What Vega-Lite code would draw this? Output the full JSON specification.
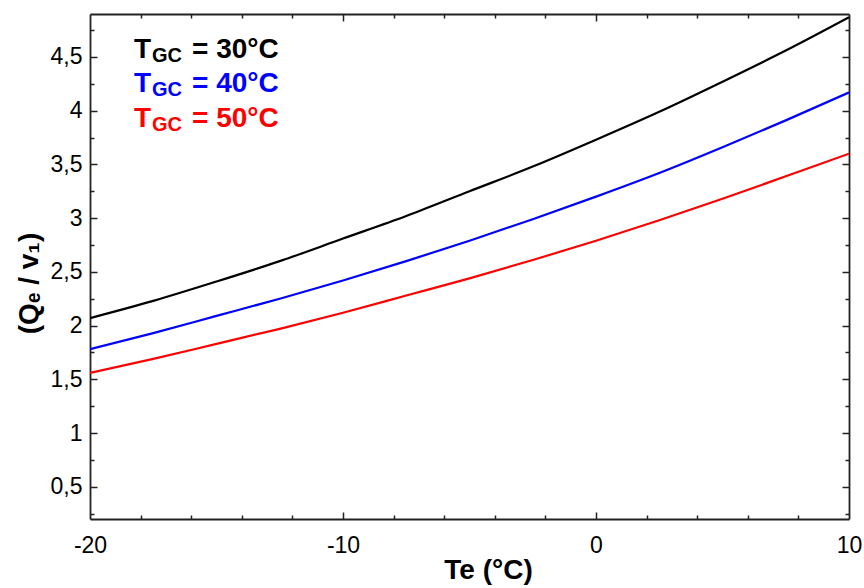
{
  "$schema": "https://vega.github.io/schema/vega-lite/v6.json",
  "width": 759,
  "height": 505,
  "autosize": {"type": "none"},
  "padding": {"left": 90, "top": 14, "right": 15, "bottom": 69},
  "background": "#ffffff",
  "datasets": {
    "curves": [
      {"te": -20, "q": 2.07, "tgc": "30"},
      {"te": -17.5, "q": 2.23, "tgc": "30"},
      {"te": -15, "q": 2.41, "tgc": "30"},
      {"te": -12.5, "q": 2.6, "tgc": "30"},
      {"te": -10, "q": 2.81, "tgc": "30"},
      {"te": -7.5, "q": 3.02, "tgc": "30"},
      {"te": -5, "q": 3.25, "tgc": "30"},
      {"te": -2.5, "q": 3.48, "tgc": "30"},
      {"te": 0, "q": 3.73, "tgc": "30"},
      {"te": 2.5, "q": 3.99, "tgc": "30"},
      {"te": 5, "q": 4.27, "tgc": "30"},
      {"te": 7.5, "q": 4.56, "tgc": "30"},
      {"te": 10, "q": 4.87, "tgc": "30"},
      {"te": -20, "q": 1.78, "tgc": "40"},
      {"te": -17.5, "q": 1.93, "tgc": "40"},
      {"te": -15, "q": 2.09, "tgc": "40"},
      {"te": -12.5, "q": 2.25, "tgc": "40"},
      {"te": -10, "q": 2.42, "tgc": "40"},
      {"te": -7.5, "q": 2.6, "tgc": "40"},
      {"te": -5, "q": 2.79, "tgc": "40"},
      {"te": -2.5, "q": 2.99, "tgc": "40"},
      {"te": 0, "q": 3.2, "tgc": "40"},
      {"te": 2.5, "q": 3.42, "tgc": "40"},
      {"te": 5, "q": 3.66, "tgc": "40"},
      {"te": 7.5, "q": 3.91, "tgc": "40"},
      {"te": 10, "q": 4.17, "tgc": "40"},
      {"te": -20, "q": 1.56, "tgc": "50"},
      {"te": -17.5, "q": 1.69, "tgc": "50"},
      {"te": -15, "q": 1.83, "tgc": "50"},
      {"te": -12.5, "q": 1.97, "tgc": "50"},
      {"te": -10, "q": 2.12, "tgc": "50"},
      {"te": -7.5, "q": 2.28, "tgc": "50"},
      {"te": -5, "q": 2.44, "tgc": "50"},
      {"te": -2.5, "q": 2.61, "tgc": "50"},
      {"te": 0, "q": 2.79, "tgc": "50"},
      {"te": 2.5, "q": 2.98, "tgc": "50"},
      {"te": 5, "q": 3.18, "tgc": "50"},
      {"te": 7.5, "q": 3.39, "tgc": "50"},
      {"te": 10, "q": 3.6, "tgc": "50"}
    ]
  },
  "data": {"name": "curves"},
  "resolve": {"axis": {"x": "independent", "y": "independent"}},
  "layer": [
    {
      "mark": {"type": "line", "strokeWidth": 2.2, "interpolate": "monotone", "clip": true},
      "encoding": {
        "x": {
          "field": "te", "type": "quantitative",
          "scale": {"domain": [-20, 10], "nice": false, "zero": false},
          "axis": {
            "orient": "bottom",
            "title": "Te (°C)",
            "values": [-20, -10, 0, 10],
            "ticks": false,
            "tickSize": 0,
            "labelPadding": 15,
            "titleX": 398,
            "titleY": 59,
            "titleAlign": "center",
            "titleBaseline": "alphabetic"
          }
        },
        "y": {
          "field": "q", "type": "quantitative",
          "scale": {"domain": [0.2, 4.9], "nice": false, "zero": false},
          "axis": {
            "orient": "left",
            "title": "(Qₑ / v₁)",
            "values": [0.5, 1, 1.5, 2, 2.5, 3, 3.5, 4, 4.5],
            "format": "~g",
            "ticks": false,
            "tickSize": 0,
            "labelPadding": 8,
            "titleX": -53,
            "titleY": 269,
            "titleAlign": "center",
            "titleBaseline": "alphabetic",
            "titleAngle": -90
          }
        },
        "color": {
          "field": "tgc", "type": "nominal",
          "scale": {"domain": ["30", "40", "50"], "range": ["#000000", "#0000ff", "#ff0000"]},
          "legend": null
        }
      }
    },
    {
      "mark": {"type": "line", "opacity": 0},
      "encoding": {
        "x": {"field": "te", "type": "quantitative", "axis": {"orient": "top", "title": null, "labels": false, "ticks": false, "values": [-20, 10]}},
        "y": {"field": "q", "type": "quantitative", "axis": {"orient": "right", "title": null, "labels": false, "ticks": false, "values": [0.5, 4.5]}}
      }
    },
    {
      "mark": {"type": "line", "opacity": 0},
      "encoding": {
        "x": {"field": "te", "type": "quantitative", "axis": {"orient": "bottom", "title": null, "labels": false, "domain": false, "offset": -7, "tickSize": 7, "values": [-10, 0]}},
        "y": {"field": "q", "type": "quantitative", "axis": {"orient": "left", "title": null, "labels": false, "domain": false, "offset": -7, "tickSize": 7, "values": [0.5, 1, 1.5, 2, 2.5, 3, 3.5, 4, 4.5]}}
      }
    },
    {
      "mark": {"type": "line", "opacity": 0},
      "encoding": {
        "x": {"field": "te", "type": "quantitative", "axis": {"orient": "top", "title": null, "labels": false, "domain": false, "offset": -7, "tickSize": 7, "values": [-10, 0]}},
        "y": {"field": "q", "type": "quantitative", "axis": {"orient": "right", "title": null, "labels": false, "domain": false, "offset": -7, "tickSize": 7, "values": [0.5, 1, 1.5, 2, 2.5, 3, 3.5, 4, 4.5]}}
      }
    },
    {
      "mark": {"type": "line", "opacity": 0},
      "encoding": {
        "x": {"field": "te", "type": "quantitative", "axis": {"orient": "bottom", "title": null, "labels": false, "domain": false, "offset": -4, "tickSize": 4, "values": [-18, -16, -14, -12, -8, -6, -4, -2, 2, 4, 6, 8]}},
        "y": {"field": "q", "type": "quantitative", "axis": {"orient": "left", "title": null, "labels": false, "domain": false, "offset": -4, "tickSize": 4, "values": [0.25, 0.75, 1.25, 1.75, 2.25, 2.75, 3.25, 3.75, 4.25, 4.75]}}
      }
    },
    {
      "mark": {"type": "line", "opacity": 0},
      "encoding": {
        "x": {"field": "te", "type": "quantitative", "axis": {"orient": "top", "title": null, "labels": false, "domain": false, "offset": -4, "tickSize": 4, "values": [-18, -16, -14, -12, -8, -6, -4, -2, 2, 4, 6, 8]}},
        "y": {"field": "q", "type": "quantitative", "axis": {"orient": "right", "title": null, "labels": false, "domain": false, "offset": -4, "tickSize": 4, "values": [0.25, 0.75, 1.25, 1.75, 2.25, 2.75, 3.25, 3.75, 4.25, 4.75]}}
      }
    },
    {
      "data": {"values": [{"tgc": "30", "label": "= 30°C"}]},
      "encoding": {
        "x": {"datum": -18.26, "type": "quantitative", "axis": null},
        "y": {"datum": 4.49, "type": "quantitative", "axis": null},
        "color": {"field": "tgc", "type": "nominal", "legend": null}
      },
      "layer": [
        {"mark": {"type": "text", "align": "left", "baseline": "alphabetic", "font": "Liberation Sans", "fontWeight": "bold", "fontSize": 28, "text": "T"}},
        {"mark": {"type": "text", "align": "left", "baseline": "alphabetic", "font": "Liberation Sans", "fontWeight": "bold", "fontSize": 20, "dx": 18, "dy": 4, "text": "GC"}},
        {"mark": {"type": "text", "align": "left", "baseline": "alphabetic", "font": "Liberation Sans", "fontWeight": "bold", "fontSize": 28, "dx": 58}, "encoding": {"text": {"field": "label"}}}
      ]
    },
    {
      "data": {"values": [{"tgc": "40", "label": "= 40°C"}]},
      "encoding": {
        "x": {"datum": -18.26, "type": "quantitative", "axis": null},
        "y": {"datum": 4.17, "type": "quantitative", "axis": null},
        "color": {"field": "tgc", "type": "nominal", "legend": null}
      },
      "layer": [
        {"mark": {"type": "text", "align": "left", "baseline": "alphabetic", "font": "Liberation Sans", "fontWeight": "bold", "fontSize": 28, "text": "T"}},
        {"mark": {"type": "text", "align": "left", "baseline": "alphabetic", "font": "Liberation Sans", "fontWeight": "bold", "fontSize": 20, "dx": 18, "dy": 4, "text": "GC"}},
        {"mark": {"type": "text", "align": "left", "baseline": "alphabetic", "font": "Liberation Sans", "fontWeight": "bold", "fontSize": 28, "dx": 58}, "encoding": {"text": {"field": "label"}}}
      ]
    },
    {
      "data": {"values": [{"tgc": "50", "label": "= 50°C"}]},
      "encoding": {
        "x": {"datum": -18.26, "type": "quantitative", "axis": null},
        "y": {"datum": 3.85, "type": "quantitative", "axis": null},
        "color": {"field": "tgc", "type": "nominal", "legend": null}
      },
      "layer": [
        {"mark": {"type": "text", "align": "left", "baseline": "alphabetic", "font": "Liberation Sans", "fontWeight": "bold", "fontSize": 28, "text": "T"}},
        {"mark": {"type": "text", "align": "left", "baseline": "alphabetic", "font": "Liberation Sans", "fontWeight": "bold", "fontSize": 20, "dx": 18, "dy": 4, "text": "GC"}},
        {"mark": {"type": "text", "align": "left", "baseline": "alphabetic", "font": "Liberation Sans", "fontWeight": "bold", "fontSize": 28, "dx": 58}, "encoding": {"text": {"field": "label"}}}
      ]
    }
  ],
  "config": {
    "locale": {"number": {"decimal": ",", "thousands": ".", "grouping": [3], "currency": ["", " €"], "minus": "-"}},
    "view": {"stroke": null},
    "axis": {
      "grid": false,
      "domainColor": "#222222",
      "domainWidth": 1.8,
      "tickColor": "#222222",
      "tickWidth": 1.5,
      "labelFont": "Liberation Sans",
      "labelFontSize": 23,
      "labelColor": "#000000",
      "labelOverlap": false,
      "labelFlush": false,
      "labelBound": false,
      "titleFont": "Liberation Sans",
      "titleFontSize": 28,
      "titleFontWeight": "bold",
      "titleColor": "#000000"
    }
  }
}
